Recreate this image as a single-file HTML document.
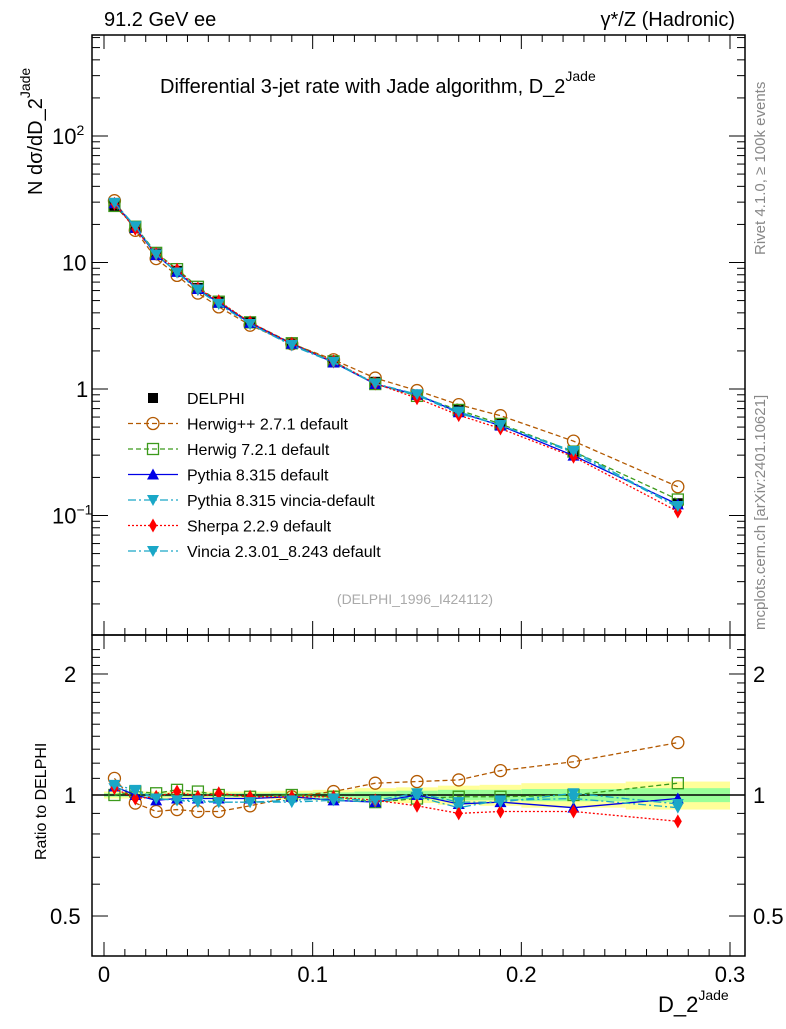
<!DOCTYPE html>
<html><head><meta charset="utf-8"><style>
body{margin:0;background:#fff;}
svg text{font-family:"Liberation Sans",sans-serif;}
</style></head><body>
<svg id="c" width="786" height="1024" xmlns="http://www.w3.org/2000/svg"></svg>
<script>
const xCenters=[0.005,0.015,0.025,0.035,0.045,0.055,0.07,0.09,0.11,0.13,0.15,0.17,0.19,0.225,0.275];
const xEdges=[0,0.01,0.02,0.03,0.04,0.05,0.06,0.08,0.1,0.12,0.14,0.16,0.18,0.2,0.25,0.3];
const dataVals=[28,18.8,11.8,8.6,6.3,4.9,3.4,2.3,1.67,1.14,0.9,0.69,0.535,0.32,0.125];
const statBand=[0.01,0.01,0.01,0.01,0.01,0.01,0.01,0.012,0.015,0.02,0.025,0.03,0.03,0.035,0.04];
const totBand=[0.02,0.02,0.02,0.02,0.02,0.02,0.02,0.025,0.03,0.04,0.045,0.055,0.06,0.07,0.08];
const rHerwigPP=[1.10,0.955,0.91,0.92,0.91,0.91,0.94,0.99,1.02,1.07,1.08,1.09,1.15,1.21,1.35];
const rHerwig7=[1.0,1.02,1.01,1.03,1.02,1.0,0.99,1.0,0.99,0.96,0.98,0.99,0.99,1.0,1.07];
const rPythia=[1.05,1.0,0.97,0.98,0.98,0.98,0.98,0.99,0.97,0.96,1.0,0.95,0.96,0.93,0.98];
const rPyVincia=[1.04,1.02,0.98,0.97,0.96,0.96,0.96,0.96,0.97,0.96,0.99,0.93,0.97,0.98,0.93];
const rSherpa=[1.04,0.98,0.99,1.02,0.99,1.01,0.99,0.99,0.99,0.97,0.94,0.90,0.91,0.91,0.86];
const rVincia=[1.06,1.03,0.98,0.97,0.97,0.96,0.96,0.97,0.98,0.97,1.01,0.96,0.96,1.01,0.95];
const legendLabels=["DELPHI","Herwig++ 2.7.1 default","Herwig 7.2.1 default","Pythia 8.315 default","Pythia 8.315 vincia-default","Sherpa 2.2.9 default","Vincia 2.3.01_8.243 default"];

const S=document.getElementById('c');const NS='http://www.w3.org/2000/svg';
function el(t,a,p){const e=document.createElementNS(NS,t);for(const k in a)e.setAttribute(k,a[k]);(p||S).appendChild(e);return e;}
function txt(x,y,s,o){const e=el('text',Object.assign({x:x,y:y,'font-size':20,fill:'#000'},o||{}));e.innerHTML=s;return e;}
const X=v=>104+v*(730-104)/0.3;
const Y=v=>389-126.5*Math.log10(v);
const R=v=>795-402*Math.log10(v);
const L=92,Rt=745,T=35,M=635,B=956;

// bands
const bands=el('g',{});
for(let i=0;i<xCenters.length;i++){
 el('rect',{x:X(xEdges[i]),y:R(1+totBand[i]),width:X(xEdges[i+1])-X(xEdges[i]),height:R(1-totBand[i])-R(1+totBand[i]),fill:'#ffff99'},bands);
 el('rect',{x:X(xEdges[i]),y:R(1+statBand[i]),width:X(xEdges[i+1])-X(xEdges[i]),height:R(1-statBand[i])-R(1+statBand[i]),fill:'#99ff99'},bands);
}
el('line',{x1:L,x2:Rt,y1:R(1),y2:R(1),stroke:'#000','stroke-width':1.5});

// frames
const fr=el('g',{fill:'none',stroke:'#000','stroke-width':1.5});
el('rect',{x:L,y:T,width:Rt-L,height:M-T},fr);el('rect',{x:L,y:M,width:Rt-L,height:B-M},fr);

// x ticks
for(let k=0;k<=30;k++){const v=k/100,x=X(v),maj=k%10==0,len=maj?14:7;
 for(const [y0,dir] of [[M,-1],[B,-1],[T,1],[M,1]]) el('line',{x1:x,x2:x,y1:y0,y2:y0+dir*len,stroke:'#000'});
 if(maj){const t=txt(x,982,k==0?'0':(v.toFixed(1)),{'text-anchor':'middle','font-size':22});}
}
// main y ticks
for(let d=-2;d<=2;d++)for(let m=1;m<10;m++){const v=m*Math.pow(10,d),y=Y(v);if(y<T||y>M)continue;const len=m==1?16:8;
 el('line',{x1:L,x2:L+len,y1:y,y2:y,stroke:'#000'});el('line',{x1:Rt,x2:Rt-len,y1:y,y2:y,stroke:'#000'});}
const ylab=[[100,'10<tspan dy="-9" font-size="14">2</tspan>'],[10,'10'],[1,'1'],[0.1,'10<tspan dy="-9" font-size="14">−1</tspan>']];
ylab.forEach(([v,s])=>{const t=txt(v==100||v==0.1?52:(v==10?62:76),Y(v)+8,s,{'font-size':22});});
// ratio y ticks
for(const v of [0.5,0.6,0.7,0.8,0.9,1,1.1,1.2,1.3,1.4,1.5,1.6,1.7,1.8,1.9,2,2.1,2.2,2.3]){const y=R(v);if(y<M||y>B)continue;const len=(v==0.5||v==1||v==2)?16:8;
 el('line',{x1:L,x2:L+len,y1:y,y2:y,stroke:'#000'});el('line',{x1:Rt,x2:Rt-len,y1:y,y2:y,stroke:'#000'});}
[[2,'2'],[1,'1'],[0.5,'0.5']].forEach(([v,s])=>{txt(v==0.5?50:64,R(v)+8,s,{'font-size':22});txt(753,R(v)+8,s,{'font-size':22});});

// markers
function marker(g,type,x,y,c){
 if(type=='sq')el('rect',{x:x-5,y:y-5,width:10,height:10,fill:'#000'},g);
 else if(type=='osq')el('rect',{x:x-5.5,y:y-5.5,width:11,height:11,fill:'none',stroke:c,'stroke-width':1.3},g);
 else if(type=='oc')el('circle',{cx:x,cy:y,r:6,fill:'none',stroke:c,'stroke-width':1.3},g);
 else if(type=='tu')el('polygon',{points:`${x},${y-6} ${x-6},${y+5} ${x+6},${y+5}`,fill:c},g);
 else if(type=='td')el('polygon',{points:`${x},${y+6} ${x-6},${y-5} ${x+6},${y-5}`,fill:c},g);
 else if(type=='di')el('polygon',{points:`${x},${y-7} ${x-4},${y} ${x},${y+7} ${x+4},${y}`,fill:c},g);
}
const series=[
 {name:'herwigpp',r:rHerwigPP,c:'#b35900',dash:'5,3',m:'oc'},
 {name:'herwig7',r:rHerwig7,c:'#3c9a1c',dash:'5,3',m:'osq'},
 {name:'pythia',r:rPythia,c:'#0000e6',dash:'',m:'tu'},
 {name:'pythia-vincia',r:rPyVincia,c:'#1aa7c7',dash:'8,3,2,3',m:'td'},
 {name:'sherpa',r:rSherpa,c:'#ff0000',dash:'2,2',m:'di'},
 {name:'vincia',r:rVincia,c:'#1aa7c7',dash:'8,3,2,3',m:'td'}];
const dg=el('g',{});
xCenters.forEach((x,i)=>marker(dg,'sq',X(x),Y(dataVals[i])));
series.forEach(s=>{
 const g=el('g',{});
 const pm=xCenters.map((x,i)=>X(x)+','+Y(dataVals[i]*s.r[i])).join(' ');
 el('polyline',{points:pm,fill:'none',stroke:s.c,'stroke-width':1.3,'stroke-dasharray':s.dash},g);
 const pr=xCenters.map((x,i)=>X(x)+','+R(s.r[i])).join(' ');
 el('polyline',{points:pr,fill:'none',stroke:s.c,'stroke-width':1.3,'stroke-dasharray':s.dash},g);
 xCenters.forEach((x,i)=>{marker(g,s.m,X(x),Y(dataVals[i]*s.r[i]),s.c);marker(g,s.m,X(x),R(s.r[i]),s.c);});
});

// legend
const lg=el('g',{});
legendLabels.forEach((lab,i)=>{const y=398+i*25.5;
 if(i==0)marker(lg,'sq',153,y);else{const s=series[i-1];el('line',{x1:128,x2:178,y1:y,y2:y,stroke:s.c,'stroke-width':1.3,'stroke-dasharray':s.dash},lg);marker(lg,s.m,153,y,s.c);}
 const t=txt(187,y+6,lab,{'font-size':16});lg.appendChild(t);});

let t;
t=txt(104,26,'91.2 GeV ee',{'font-size':20});
t=txt(735,26,'γ*/Z (Hadronic)',{'font-size':20,'text-anchor':'end'});
t=txt(160,93,'Differential 3-jet rate with Jade algorithm, D_2<tspan dy="-12" font-size="14">Jade</tspan>',{'font-size':20});
t=txt(415,604,'(DELPHI_1996_I424112)',{'font-size':14,fill:'#aaa','text-anchor':'middle'});
t=txt(0,0,'N  dσ/dD_2<tspan dy="-12" font-size="14">Jade</tspan>',{'font-size':20,transform:'translate(42,195) rotate(-90)'});
t=txt(0,0,'Ratio to DELPHI',{'font-size':16,transform:'translate(46,860) rotate(-90)'});
t=txt(0,0,'D_2<tspan dy="-12" font-size="14">Jade</tspan>',{'font-size':22,transform:'translate(658,1012)'});
t=txt(0,0,'Rivet 4.1.0, ≥ 100k events',{'font-size':15,fill:'#888',transform:'translate(765,255) rotate(-90)'});
t=txt(0,0,'mcplots.cern.ch [arXiv:2401.10621]',{'font-size':15,fill:'#888',transform:'translate(765,630) rotate(-90)'});
</script>
</body></html>
